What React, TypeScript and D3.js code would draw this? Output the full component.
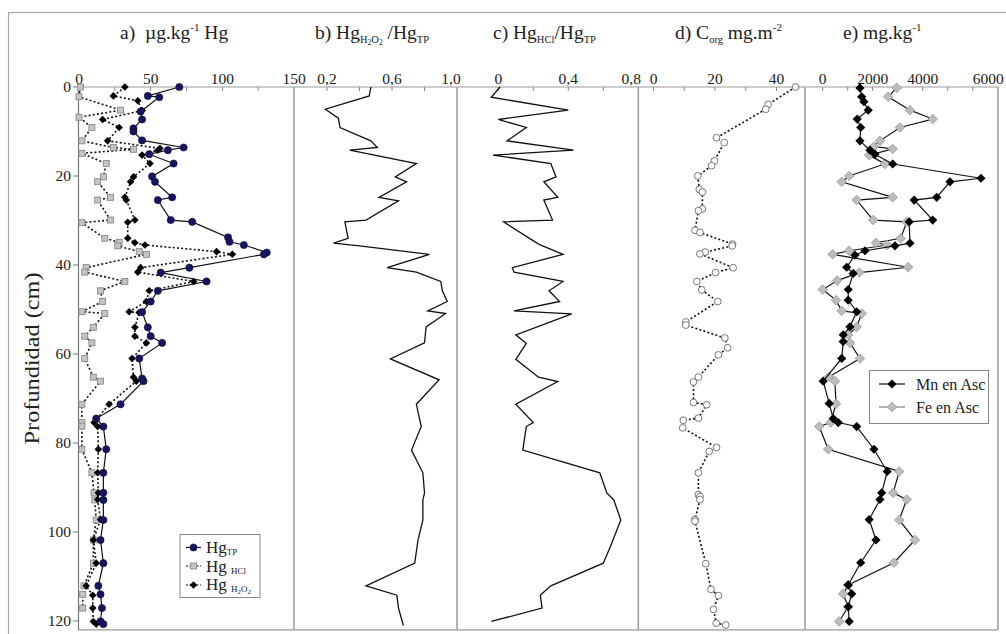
import React from 'react';
import * as d3 from 'd3';

// ---------- DATA ----------
const depthTP = [0, 2, 2.3, 5.5, 7.3, 9.3, 10, 12, 13.6, 14.2, 15.1, 17.2, 20.1, 21.3, 24.8, 25.4, 29.9, 30.3, 33.8, 34.8, 35.5, 37.2, 37.6, 40.6, 41.7, 43.7, 45.8, 48.2, 50.6, 54, 56, 57.5, 61, 65.5, 66.1, 71.3, 74.5, 76.3, 81.4, 86.7, 91.2, 92.8, 97.3, 101.8, 107, 112.1, 114, 117.1, 120.1, 120.7];
const hgTP = [70, 48, 56, 43, 44, 38, 38, 44, 73, 62, 49, 66, 51, 53, 65, 55, 64, 79, 104, 105, 115, 131, 129, 77, 57, 89, 55, 50, 44, 48, 50, 58, 42, 44, 45, 29, 12, 17, 19, 17, 17, 17, 17, 15, 17, 13.5, 15, 16, 15, 17];

const depthHCl = [0, 2.2, 5.2, 6.8, 9.1, 12.1, 13.6, 14.0, 14.9, 17.2, 20.2, 21.3, 24.8, 25.4, 29.9, 30.5, 34.0, 34.9, 35.7, 37.0, 37.6, 40.6, 41.6, 43.7, 45.8, 48.2, 50.5, 50.9, 54, 56, 57.5, 61, 65.2, 66.1, 71.3, 75.4, 76.2, 81.4, 86.7, 91.2, 92.8, 97.3, 101.8, 107, 112.1, 114, 117.1];
const hgHCl = [1, 0, 29, 0, 9, 2, 24, 38, 2, 19, 17, 13, 22, 13, 22, 2, 18, 28, 27, 42, 47, 5, 4, 32, 15, 16.5, 2, 18, 10, 4, 9, 4, 10, 15, 2, 2, 2, 2, 9, 10.5, 11, 12, 10, 10, 3.5, 2.6, 2.6];

const depthH2O2 = [0, 2.0, 3.1, 5.3, 7.3, 9.1, 12.1, 13.8, 14.2, 15.3, 17.2, 20.2, 21.3, 24.8, 25.4, 29.9, 30.4, 34.0, 35.0, 35.5, 37.0, 37.6, 40.6, 41.6, 43.7, 45.8, 48.2, 50.5, 50.7, 54, 56, 57.5, 61, 65.2, 66.1, 71.3, 75.4, 76.3, 81.4, 86.7, 91.2, 92.7, 97.2, 101.8, 107, 112.1, 114.2, 117.1, 120.1, 120.7];
const hgH2O2 = [32, 24, 41, 44, 16.5, 28, 20, 56.5, 55, 44, 49.5, 38, 36, 32, 33, 39, 34, 34, 39, 46, 96, 107, 43, 41, 80, 49, 47, 35, 42, 39, 39, 47, 37, 38, 40, 21, 10.5, 13, 13.5, 13, 13.5, 13, 15, 10, 12, 5, 9.6, 9.6, 10, 12];

const depthB = [0, 2.0, 5.0, 7.0, 9.1, 12.1, 13.6, 14.2, 17.2, 20.2, 21.3, 24.8, 25.6, 29.9, 30.3, 34.0, 35.1, 35.7, 37.6, 40.6, 41.6, 43.7, 45.8, 48.2, 50.3, 50.9, 53.9, 57.5, 61.1, 65.8, 71.3, 76.3, 81.6, 86.7, 91.2, 92.8, 97.3, 101.8, 107, 112.1, 114.2, 117.1, 121];
const ratioH2O2 = [0.47, 0.46, 0.19, 0.27, 0.28, 0.47, 0.51, 0.34, 0.75, 0.62, 0.69, 0.52, 0.64, 0.44, 0.31, 0.33, 0.24, 0.40, 0.83, 0.57, 0.75, 0.9, 0.91, 0.94, 0.82, 0.93, 0.81, 0.8, 0.59, 0.89, 0.75, 0.78, 0.72, 0.79, 0.8, 0.79, 0.79, 0.76, 0.74, 0.44, 0.63, 0.64, 0.67];

const depthC = [0, 2.3, 5.2, 7.3, 9.1, 12.1, 14.2, 15.3, 17.2, 20.2, 21.3, 24.8, 25.4, 29.9, 30.3, 34.8, 35.5, 37.6, 40.6, 41.6, 43.7, 45.8, 48.2, 50.3, 51, 55.7, 57.6, 61.2, 65.2, 66.2, 71.3, 75.4, 76.3, 81.6, 86.7, 91.2, 92.8, 97.3, 103.3, 107, 112.1, 114.2, 117.1, 120.1];
const ratioHCl = [0.01, -0.04, 0.4, 0.0, 0.16, 0.05, 0.43, -0.03, 0.3, 0.33, 0.26, 0.34, 0.26, 0.31, 0.03, 0.21, 0.24, 0.37, 0.08, 0.09, 0.37, 0.29, 0.35, 0.09, 0.42, 0.1, 0.16, 0.1, 0.23, 0.34, 0.1, 0.2, 0.16, 0.14, 0.58, 0.62, 0.66, 0.7, 0.64, 0.6, 0.3, 0.24, 0.25, -0.04];

const depthCorg = [0, 3.9, 5.0, 11.4, 12.5, 16.6, 17.7, 20.0, 23.0, 23.6, 27.4, 27.8, 32.2, 32.7, 35.3, 35.7, 37.1, 37.5, 40.6, 41.7, 43.7, 45.6, 48.2, 52.8, 53.5, 56.4, 58.6, 60.2, 65.2, 66.3, 70.9, 71.4, 74.4, 74.9, 76.6, 81.0, 81.9, 86.7, 91.6, 92.0, 92.7, 97.2, 97.6, 107.1, 112.9, 114.3, 117.4, 120.5, 120.9];
const corg = [46.2, 37.3, 36.5, 20.5, 23.0, 19.8, 18.9, 14.4, 14.9, 15.9, 15.9, 14.6, 13.5, 15.1, 25.7, 25.6, 16.8, 15.1, 25.9, 20.2, 14.1, 15.7, 20.9, 10.5, 10.5, 23.2, 24.1, 21.1, 14.6, 13.0, 13.0, 17.3, 14.6, 9.7, 9.5, 20.5, 18.1, 14.6, 14.6, 15.1, 15.1, 13.5, 13.5, 17.0, 18.7, 21.1, 19.5, 20.4, 23.5];

const depthMn = [0.2, 2.2, 3.3, 5.2, 7.2, 9.1, 12.1, 14.2, 15.1, 17.3, 20.5, 21.3, 24.8, 25.4, 29.9, 30.3, 35.1, 35.7, 36.8, 37.8, 40.5, 41.9, 45.5, 47.9, 50.5, 53.9, 55.7, 57.2, 61, 66.1, 71.1, 74.5, 75.4, 76.3, 81.4, 86.4, 91.2, 92.7, 97.2, 101.8, 106.9, 111.9, 113.9, 116.8, 120.1];
const mn = [1490, 1560, 1650, 1820, 1380, 1520, 1490, 1890, 2090, 2800, 6330, 5090, 4560, 3660, 4400, 3460, 3490, 2890, 1690, 1290, 960, 1220, 1020, 1020, 1360, 1090, 820, 820, 760, 20, 260, 420, 620, 1360, 2050, 2580, 2360, 2290, 1860, 2130, 1520, 1020, 1160, 1020, 1060];

const depthFe = [0.2, 2.2, 5.2, 7.2, 9.1, 12.1, 13.4, 13.9, 15.3, 17.3, 20, 21.3, 24.8, 25.4, 29.9, 30.3, 34.0, 35.0, 35.5, 36.8, 37.6, 40.5, 41.7, 43.5, 45.5, 47.9, 50.3, 50.9, 53.9, 55.7, 57.5, 61, 65.1, 66.1, 71.2, 75.4, 76.3, 81.4, 86.4, 91.2, 92.7, 97.3, 101.8, 106.9, 111.9, 113.9, 116.8, 120.1];
const fe = [2960, 2620, 3490, 4400, 3090, 2290, 2050, 2800, 1860, 2490, 1060, 760, 2800, 1360, 2020, 3360, 3120, 2130, 2580, 1060, 400, 3420, 1460, 580, 0, 530, 760, 1560, 1360, 1020, 1090, 1490, 260, 490, 530, 320, -140, 220, 3060, 2820, 3360, 3060, 3690, 2850, 1020, 820, 1020, 660];

const depthTicks = [0, 20, 40, 60, 80, 100, 120];
const ticksA = [0, 50, 100, 150];
const ticksB = [0.2, 0.6, 1.0];
const ticksC = [0, 0.4, 0.8];
const ticksD = [0, 20, 40];
const ticksE = [0, 2000, 4000, 6000];

// ---------- LAYOUT ----------
const W = 1006, H = 634;
const TOP = 87;
const FONT = '"Liberation Serif", "Times New Roman", serif';

const yScale = d3.scaleLinear().domain([0, 120]).range([TOP, 621]);
const BOTTOM = yScale(122);

const xA = d3.scaleLinear().domain([0, 150]).range([79, 294]);
const xB = d3.scaleLinear().domain([0, 1]).range([294.5, 457]);
const xC = d3.scaleLinear().domain([0, 0.8]).range([498.3, 638.3]);
const xD = d3.scaleLinear().domain([0, 40]).range([653.5, 776.5]);
const xE = d3.scaleLinear().domain([0, 6000]).range([822.7, 972.7]);

const panels = [
  { l: 79, r: 294 }, { l: 294, r: 457 }, { l: 457, r: 638.3 }, { l: 638.3, r: 805 }, { l: 805, r: 998 },
];

type Pt = [number, number];
const zip = (ds: number[], vs: number[]): Pt[] => ds.map((d, i) => [vs[i], d]);

function linePath(x: d3.ScaleLinear<number, number>, pts: Pt[]) {
  return d3.line<Pt>().x(p => x(p[0])).y(p => yScale(p[1]))(pts) || '';
}

const diamond = (cx: number, cy: number, s: number) => `M${cx},${cy - s}L${cx + s},${cy}L${cx},${cy + s}L${cx - s},${cy}Z`;

function Marker({ kind, cx, cy }: { kind: string; cx: number; cy: number }) {
  switch (kind) {
    case 'tp':
      return <circle cx={cx} cy={cy} r={3.6} fill="#161660" stroke="#0b0b40" strokeWidth={0.6} />;
    case 'hcl':
      return <rect x={cx - 3} y={cy - 3} width={6} height={6} fill="#c4c4c4" stroke="#808080" strokeWidth={0.8} />;
    case 'h2o2':
      return <path d={diamond(cx, cy, 3.8)} fill="#000" />;
    case 'corg':
      return <circle cx={cx} cy={cy} r={3.4} fill="#fff" stroke="#555" strokeWidth={0.8} />;
    case 'mn':
      return <path d={diamond(cx, cy, 4.6)} fill="#000" />;
    case 'fe':
      return <path d={diamond(cx, cy, 4.8)} fill="#bcbcbc" stroke="#999" strokeWidth={0.8} />;
    default:
      return null;
  }
}

function Series({ x, pts, kind, dotted }: { x: d3.ScaleLinear<number, number>; pts: Pt[]; kind: string; dotted?: boolean }) {
  return (
    <g>
      <path d={linePath(x, pts)} fill="none" stroke="#111" strokeWidth={dotted ? 1.6 : 1.2} strokeDasharray={dotted ? '2,2.2' : undefined} />
      {pts.map((p, i) => <Marker key={i} kind={kind} cx={x(p[0])} cy={yScale(p[1])} />)}
    </g>
  );
}

function TopTicks({ x, minor, labels, fmt, lastShift = 0, lastAnchor = 'middle' }: { x: d3.ScaleLinear<number, number>; minor: number[]; labels: number[]; fmt: (v: number) => string; lastShift?: number; lastAnchor?: string }) {
  return (
    <g>
      {minor.map((v, i) => <line key={'m' + i} x1={x(v)} x2={x(v)} y1={TOP} y2={TOP + 4} stroke="#888" strokeWidth={1} />)}
      {labels.map((v, i) => {
        const last = i === labels.length - 1;
        return (
          <text key={'l' + i} x={x(v) + (last ? lastShift : 0)} y={84} textAnchor={last ? lastAnchor : 'middle'} fontSize={15.5} fontFamily={FONT} fill="#222">{fmt(v)}</text>
        );
      })}
    </g>
  );
}

const comma = (digits: number) => (v: number) => v.toFixed(digits).replace('.', ',');

export default function App() {
  const tp = zip(depthTP, hgTP);
  const hcl = zip(depthHCl, hgHCl);
  const h2o2 = zip(depthH2O2, hgH2O2);
  const rb = zip(depthB, ratioH2O2);
  const rc = zip(depthC, ratioHCl);
  const co = zip(depthCorg, corg);
  const mnP = zip(depthMn, mn);
  const feP = zip(depthFe, fe);

  const titleStyle = { fontFamily: FONT, fontSize: 19.5, fill: '#222' } as const;

  return (
    <svg width={W} height={H} style={{ position: 'absolute', left: 0, top: 0, background: '#fff' }} xmlns="http://www.w3.org/2000/svg">
      <rect x={0} y={0} width={W} height={H} fill="#fff" />
      {/* outer frame */}
      <rect x={8.5} y={12.5} width={1020} height={660} fill="none" stroke="#a8a8a8" strokeWidth={1.2} />

      {/* titles */}
      <text x={120} y={39} {...titleStyle}>a){'\u00a0\u00a0'}µg.kg<tspan fontSize={11} dy={-8}>-1</tspan><tspan dy={8}> Hg</tspan></text>
      <text x={315} y={39} {...titleStyle}>b) Hg<tspan fontSize={10.5} dy={4}>H</tspan><tspan fontSize={7.5} dy={2}>2</tspan><tspan fontSize={10.5} dy={-2}>O</tspan><tspan fontSize={7.5} dy={2}>2</tspan><tspan dy={-6}> /Hg</tspan><tspan fontSize={10.5} dy={4}>TP</tspan></text>
      <text x={493} y={39} {...titleStyle}>c) Hg<tspan fontSize={10.5} dy={4}>HCl</tspan><tspan dy={-4}>/Hg</tspan><tspan fontSize={10.5} dy={4}>TP</tspan></text>
      <text x={675} y={39} {...titleStyle}>d) C<tspan fontSize={10.5} dy={4}>org</tspan><tspan dy={-4}> mg.m</tspan><tspan fontSize={11} dy={-8}>-2</tspan></text>
      <text x={843} y={39} {...titleStyle}>e) mg.kg<tspan fontSize={11} dy={-8}>-1</tspan></text>

      {/* top axis line */}
      <line x1={79} x2={998} y1={TOP} y2={TOP} stroke="#999" strokeWidth={1.2} />
      {/* bottom line */}
      <line x1={79} x2={998} y1={BOTTOM} y2={BOTTOM} stroke="#999" strokeWidth={1.2} />
      {/* panel separators */}
      {panels.slice(1).map((p, i) => (
        <line key={i} x1={p.l} x2={p.l} y1={TOP} y2={BOTTOM} stroke="#a0a0a0" strokeWidth={1.6} />
      ))}
      <line x1={998} x2={998} y1={TOP} y2={BOTTOM} stroke="#a0a0a0" strokeWidth={1.6} />

      {/* y axis */}
      <line x1={78.5} x2={78.5} y1={TOP} y2={BOTTOM} stroke="#777" strokeWidth={1.2} />
      {depthTicks.map(t => (
        <g key={t}>
          <line x1={73} x2={78.5} y1={yScale(t)} y2={yScale(t)} stroke="#777" />
          <text x={71} y={yScale(t) + 5} textAnchor="end" fontSize={15.5} fontFamily={FONT} fill="#222">{t}</text>
        </g>
      ))}
      <text transform={`translate(39,${yScale(61)}) rotate(-90)`} textAnchor="middle" fontSize={20} fontFamily={FONT} fill="#222" textLength={172} lengthAdjust="spacingAndGlyphs">Profundidad (cm)</text>

      {/* tick marks & labels */}
      <TopTicks x={xA} minor={[25, 50, 75, 100, 125]} labels={ticksA} fmt={v => String(v)} />
      <TopTicks x={xB} minor={[0.2, 0.4, 0.6, 0.8]} labels={ticksB} fmt={comma(1)} lastShift={-6} />
      <TopTicks x={xC} minor={[0, 0.2, 0.4, 0.6]} labels={ticksC} fmt={v => (v === 0 ? '0' : comma(1)(v))} lastShift={-7} />
      <TopTicks x={xD} minor={[0, 10, 20, 30, 40]} labels={ticksD} fmt={v => String(v)} />
      <TopTicks x={xE} minor={[0, 1000, 2000, 3000, 4000, 5000, 6000]} labels={ticksE} fmt={v => String(v)} lastShift={31} lastAnchor="end" />

      {/* panel a */}
      <Series x={xA} pts={hcl} kind="hcl" dotted />
      <Series x={xA} pts={h2o2} kind="h2o2" dotted />
      <Series x={xA} pts={tp} kind="tp" />

      {/* panel b */}
      <path d={linePath(xB, rb)} fill="none" stroke="#111" strokeWidth={1.3} />
      {/* panel c */}
      <path d={linePath(xC, rc)} fill="none" stroke="#111" strokeWidth={1.3} />
      {/* panel d */}
      <Series x={xD} pts={co} kind="corg" dotted />
      {/* panel e */}
      <Series x={xE} pts={feP} kind="fe" />
      <Series x={xE} pts={mnP} kind="mn" />

      {/* legend a */}
      <rect x={180} y={534.5} width={80} height={63} fill="#fff" stroke="#888" strokeWidth={1} />
      {[
        { kind: 'tp', y: 547.5, dotted: false },
        { kind: 'hcl', y: 566, dotted: true },
        { kind: 'h2o2', y: 585, dotted: true },
      ].map(it => (
        <g key={it.kind}>
          <line x1={186} x2={201} y1={it.y} y2={it.y} stroke="#111" strokeWidth={1.2} strokeDasharray={it.dotted ? '2,1.5' : undefined} />
          <Marker kind={it.kind} cx={193.5} cy={it.y} />
        </g>
      ))}
      <text x={206} y={553} fontSize={17} fontFamily={FONT} fill="#222">Hg<tspan fontSize={9} dy={2}>TP</tspan></text>
      <text x={206} y={571.5} fontSize={17} fontFamily={FONT} fill="#222">Hg <tspan fontSize={9} dy={2}>HCl</tspan></text>
      <text x={206} y={590} fontSize={17} fontFamily={FONT} fill="#222">Hg <tspan fontSize={9} dy={2}>H</tspan><tspan fontSize={7} dy={1.5}>2</tspan><tspan fontSize={9} dy={-1.5}>O</tspan><tspan fontSize={7} dy={1.5}>2</tspan></text>

      {/* legend e */}
      <rect x={869.5} y={370.5} width={119} height={53} fill="#fff" stroke="#888" strokeWidth={1} />
      <line x1={879} x2={905} y1={384} y2={384} stroke="#111" strokeWidth={1.2} />
      <Marker kind="mn" cx={892} cy={384} />
      <line x1={879} x2={905} y1={407} y2={407} stroke="#888" strokeWidth={1.2} />
      <Marker kind="fe" cx={892} cy={407} />
      <text x={916} y={389.5} fontSize={16} fontFamily={FONT} fill="#222">Mn en Asc</text>
      <text x={916} y={412.5} fontSize={16} fontFamily={FONT} fill="#222">Fe en Asc</text>
    </svg>
  );
}
